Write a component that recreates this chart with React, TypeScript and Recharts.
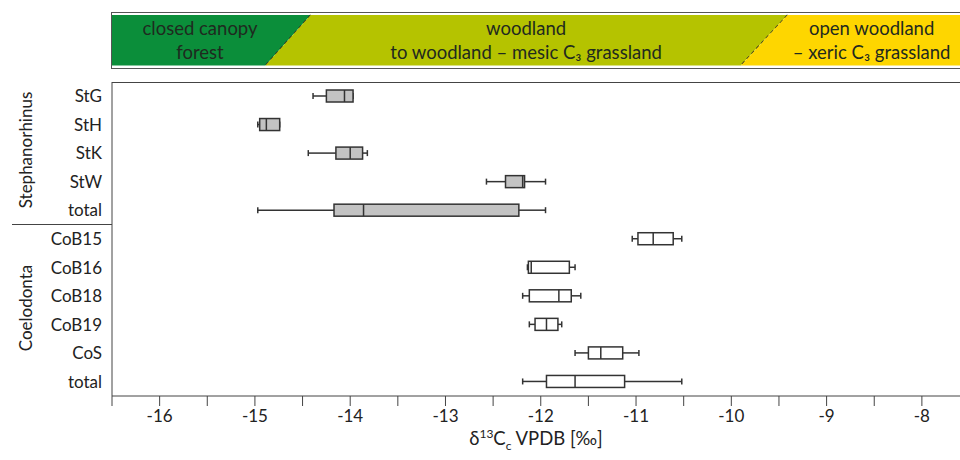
import { ComposedChart, Bar, XAxis, YAxis } from 'recharts';

const font = 'Lato, "Open Sans", sans-serif';

// box plot rows, top to bottom
const keys = ['StG', 'StH', 'StK', 'StW', 'St-total', 'CoB15', 'CoB16', 'CoB18', 'CoB19', 'CoS', 'Co-total'];
const labels = ['StG', 'StH', 'StK', 'StW', 'total', 'CoB15', 'CoB16', 'CoB18', 'CoB19', 'CoS', 'total'];
const groups = ['St', 'St', 'St', 'St', 'St', 'Co', 'Co', 'Co', 'Co', 'Co', 'Co'];
const mins = [-14.39, -14.97, -14.44, -12.57, -14.97, -11.04, -12.14, -12.19, -12.12, -11.64, -12.19];
const q1s = [-14.25, -14.95, -14.15, -12.37, -14.17, -10.98, -12.13, -12.12, -12.06, -11.5, -11.94];
const medians = [-14.06, -14.88, -14.0, -12.19, -13.86, -10.82, -12.1, -11.81, -11.94, -11.37, -11.64];
const q3s = [-13.97, -14.74, -13.87, -12.17, -12.23, -10.61, -11.7, -11.68, -11.82, -11.14, -11.12];
const maxs = [-13.97, -14.74, -13.82, -11.95, -11.95, -10.52, -11.64, -11.58, -11.78, -10.97, -10.52];

const xTicks = [-16.5, -16, -15.5, -15, -14.5, -14, -13.5, -13, -12.5, -12, -11.5, -11, -10.5, -10, -9.5, -9, -8.5, -8];
const xDomain = [-16.5, -7.6];

// habitat zones in the banner (slanted borders: top / bottom value)
const zoneNames = [['closed canopy', 'forest'], ['woodland', 'to woodland \u2013 mesic C\u2083 grassland'], ['open woodland', '\u2013 xeric C\u2083 grassland']];
const zoneLeftTop = [-16.5, -14.415, -9.41];
const zoneLeftBottom = [-16.5, -14.89, -9.9];
const zoneRightTop = [-14.415, -9.41, -7.4];
const zoneRightBottom = [-14.89, -9.9, -7.4];
const zoneColors = ['#0b8e3a', '#b5c300', '#fed600'];

const rows = keys.map((k, i) => ({
  key: k,
  group: groups[i],
  range: [mins[i], maxs[i]],
  min: mins[i],
  q1: q1s[i],
  median: medians[i],
  q3: q3s[i],
  max: maxs[i],
}));

const bannerRow: any = { name: 'habitat' };
zoneColors.forEach((_c, i) => {
  bannerRow['zone' + i] = [
    Math.min(zoneLeftTop[i], zoneLeftBottom[i]),
    Math.max(zoneRightTop[i], zoneRightBottom[i]),
  ];
});

const BoxShape = (props: any) => {
  const { x, y, width, height, payload } = props;
  const px = (v: number) => x + ((v - payload.min) / (payload.max - payload.min)) * width;
  const cy = y + height / 2;
  const stroke = '#333';
  const fill = payload.group === 'St' ? '#c3c3c3' : '#ffffff';
  return (
    <g>
      <line x1={px(payload.min)} x2={px(payload.q1)} y1={cy} y2={cy} stroke={stroke} strokeWidth={1.5} />
      <line x1={px(payload.q3)} x2={px(payload.max)} y1={cy} y2={cy} stroke={stroke} strokeWidth={1.5} />
      <line x1={px(payload.min)} x2={px(payload.min)} y1={cy - 3} y2={cy + 3} stroke={stroke} strokeWidth={1.5} />
      <line x1={px(payload.max)} x2={px(payload.max)} y1={cy - 3} y2={cy + 3} stroke={stroke} strokeWidth={1.5} />
      <rect x={px(payload.q1)} y={y} width={px(payload.q3) - px(payload.q1)} height={height} fill={fill} stroke={stroke} strokeWidth={1.5} />
      <line x1={px(payload.median)} x2={px(payload.median)} y1={y} y2={y + height} stroke={stroke} strokeWidth={1.5} />
    </g>
  );
};

const makeZoneShape = (i: number) => (props: any) => {
  const { x, y, width, height } = props;
  const lo = Math.min(zoneLeftTop[i], zoneLeftBottom[i]);
  const hi = Math.max(zoneRightTop[i], zoneRightBottom[i]);
  const px = (v: number) => x + ((v - lo) / (hi - lo)) * width;
  const lt = px(zoneLeftTop[i]);
  const lb = px(zoneLeftBottom[i]);
  const rt = px(zoneRightTop[i]);
  const rb = px(zoneRightBottom[i]);
  const cx = (lt + lb + rt + rb) / 4;
  const cy = y + height / 2;
  return (
    <g>
      <polygon points={`${lt},${y} ${rt},${y} ${rb},${y + height} ${lb},${y + height}`} fill={zoneColors[i]} />
      {i < zoneColors.length - 1 && (
        <line x1={rt} y1={y} x2={rb} y2={y + height} stroke="#2a2a2a" strokeWidth={1.3} strokeDasharray="4 3" />
      )}
      <text x={cx} y={cy - 12} textAnchor="middle" dominantBaseline="central" fontSize={18.5} fill="#1f2a1f" fontFamily={font}>
        {zoneNames[i][0]}
      </text>
      <text x={cx} y={cy + 12} textAnchor="middle" dominantBaseline="central" fontSize={18.5} fill="#1f2a1f" fontFamily={font}>
        {zoneNames[i][1]}
      </text>
    </g>
  );
};

export default function App() {
  return (
    <div style={{ position: 'absolute', left: 0, top: 0, width: 960, height: 460, overflow: 'hidden', background: '#fff', fontFamily: font }}>
      {/* habitat banner: one hidden category axis per zone so the bars overlap */}
      <div style={{ position: 'absolute', left: 0, top: 12 }}>
        <ComposedChart
          width={960}
          height={56}
          data={[bannerRow]}
          layout="vertical"
          barCategoryGap={0}
          margin={{ top: 0, right: 0, bottom: 0, left: 112 }}
        >
          <XAxis type="number" domain={xDomain} allowDataOverflow hide />
          {zoneColors.map((_c, i) => (
            <YAxis key={'y' + i} yAxisId={'z' + i} type="category" dataKey="name" hide />
          ))}
          {zoneColors.map((c, i) => (
            <Bar key={c} yAxisId={'z' + i} dataKey={'zone' + i} barSize={56} fill={c} isAnimationActive={false} shape={makeZoneShape(i)} />
          ))}
        </ComposedChart>
      </div>
      <div style={{ position: 'absolute', left: 111, top: 12, width: 860, height: 57, boxSizing: 'border-box', border: '1px solid #555' }} />

      {/* box plots */}
      <div style={{ position: 'absolute', left: 0, top: 82 }}>
        <ComposedChart width={960} height={378} data={rows} layout="vertical" margin={{ top: 0, right: 0, bottom: 34, left: 0 }}>
          <XAxis
            type="number"
            domain={xDomain}
            ticks={xTicks}
            allowDataOverflow
            height={30}
            tickSize={10}
            tickMargin={4}
            stroke="#444"
            tick={{ fill: '#222', fontSize: 17, fontFamily: font }}
            tickFormatter={(v: number) => (Number.isInteger(v) ? String(v) : '')}
            interval={0}
          />
          <YAxis
            type="category"
            dataKey="key"
            width={112}
            stroke="#444"
            tickLine={false}
            tickSize={0}
            tickMargin={10}
            tick={{ fill: '#222', fontSize: 17, fontFamily: font }}
            tickFormatter={(_v: string, i: number) => labels[i]}
            interval={0}
          />
          <Bar dataKey="range" barSize={12} isAnimationActive={false} shape={BoxShape} />
        </ComposedChart>
      </div>

      {/* frame and group labels */}
      <svg width={960} height={460} style={{ position: 'absolute', left: 0, top: 0, pointerEvents: 'none' }}>
        <line x1={112} x2={960} y1={82.5} y2={82.5} stroke="#444" strokeWidth={1} />
        <line x1={12} x2={112} y1={224.5} y2={224.5} stroke="#444" strokeWidth={1} />
        <text x={25} y={150} transform="rotate(-90 25 150)" textAnchor="middle" dominantBaseline="central" fontSize={17} fill="#222" fontFamily={font}>
          Stephanorhinus
        </text>
        <text x={25} y={308} transform="rotate(-90 25 308)" textAnchor="middle" dominantBaseline="central" fontSize={17} fill="#222" fontFamily={font}>
          Coelodonta
        </text>
      </svg>

      <div style={{ position: 'absolute', left: 112, width: 848, top: 426, textAlign: 'center', fontSize: 18.5, color: '#222' }}>
        δ<sup style={{ fontSize: 12 }}>13</sup>C<sub style={{ fontSize: 12 }}>c</sub> VPDB [‰]
      </div>
    </div>
  );
}
